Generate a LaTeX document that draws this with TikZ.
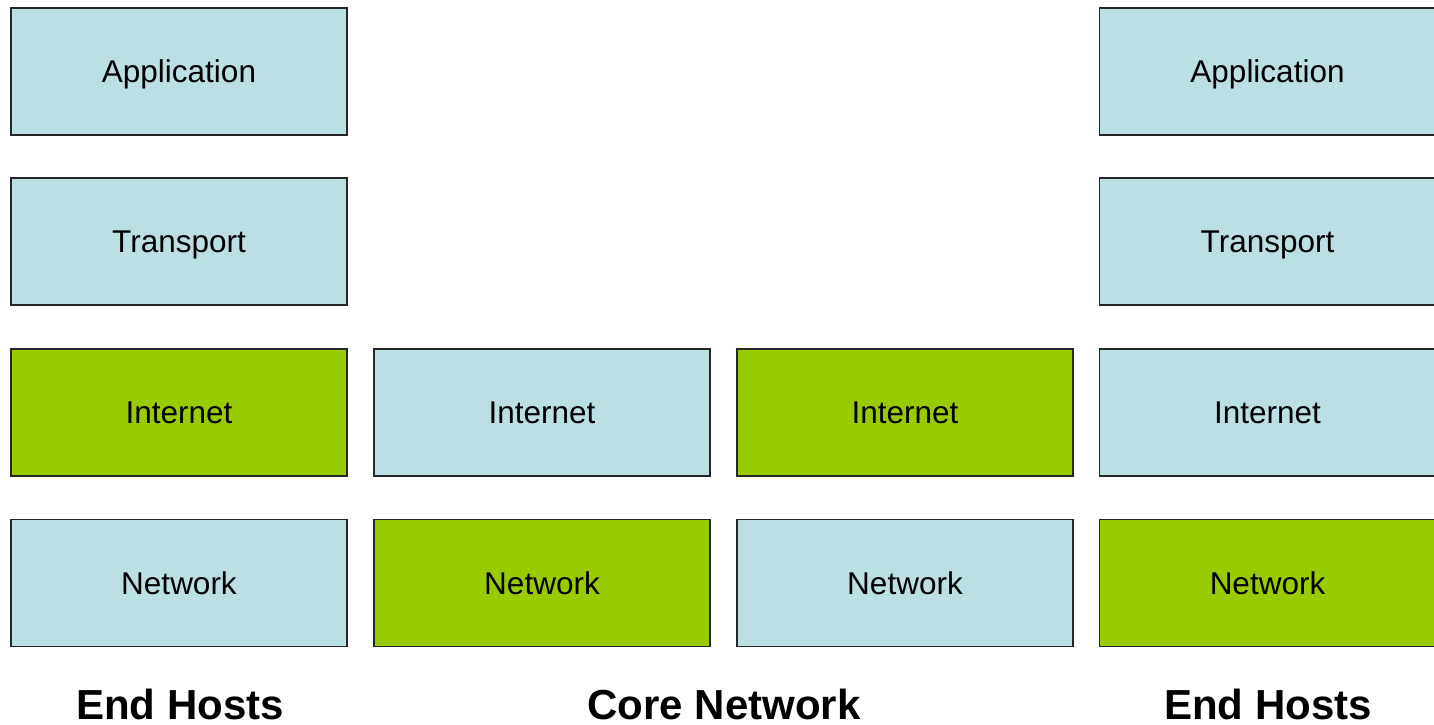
\documentclass[tikz,border=0pt]{standalone}
\usepackage{fontspec}
\setmainfont{Liberation Sans}
\definecolor{lblue}{HTML}{BBE0E3}
\definecolor{lgreen}{HTML}{99CC00}
\tikzset{
  layer/.style={draw=black!85, line width=1.5pt, minimum width=336pt, minimum height=127pt, inner sep=0pt, text height=22.5pt, text depth=0pt, font=\fontsize{31.5}{36}\selectfont},
  bluebox/.style={layer, fill=lblue},
  greenbox/.style={layer, fill=lgreen},
  caption/.style={anchor=base, inner sep=0pt, text depth=0pt, font=\fontsize{42}{48}\selectfont\bfseries}
}
\begin{document}
\begin{tikzpicture}[x=1pt,y=-1pt]
\useasboundingbox (0,0) rectangle (1434,725);
\begin{scope}
\clip (0,0) rectangle (1434,725);
% column 1
\node[bluebox]  (a1) at (179,71.5)  {Application};
\node[bluebox]  (t1) at (179,241.5) {Transport};
\node[greenbox] (i1) at (179,412.5) {Internet};
\node[bluebox]  (n1) at (179,583)   {Network};
% column 2
\node[bluebox]  (i2) at (542,412.5) {Internet};
\node[greenbox] (n2) at (542,583)   {Network};
% column 3
\node[greenbox] (i3) at (905,412.5) {Internet};
\node[bluebox]  (n3) at (905,583)   {Network};
% column 4
\node[bluebox]  (a4) at (1267.5,71.5)  {Application};
\node[bluebox]  (t4) at (1267.5,241.5) {Transport};
\node[bluebox]  (i4) at (1267.5,412.5) {Internet};
\node[greenbox] (n4) at (1267.5,583)   {Network};
\end{scope}
\node[caption] (c1) at (180,719) {End Hosts};
\node[caption] (c2) at (724,719) {Core Network};
\node[caption] (c3) at (1268,719) {End Hosts};
\end{tikzpicture}
\end{document}
